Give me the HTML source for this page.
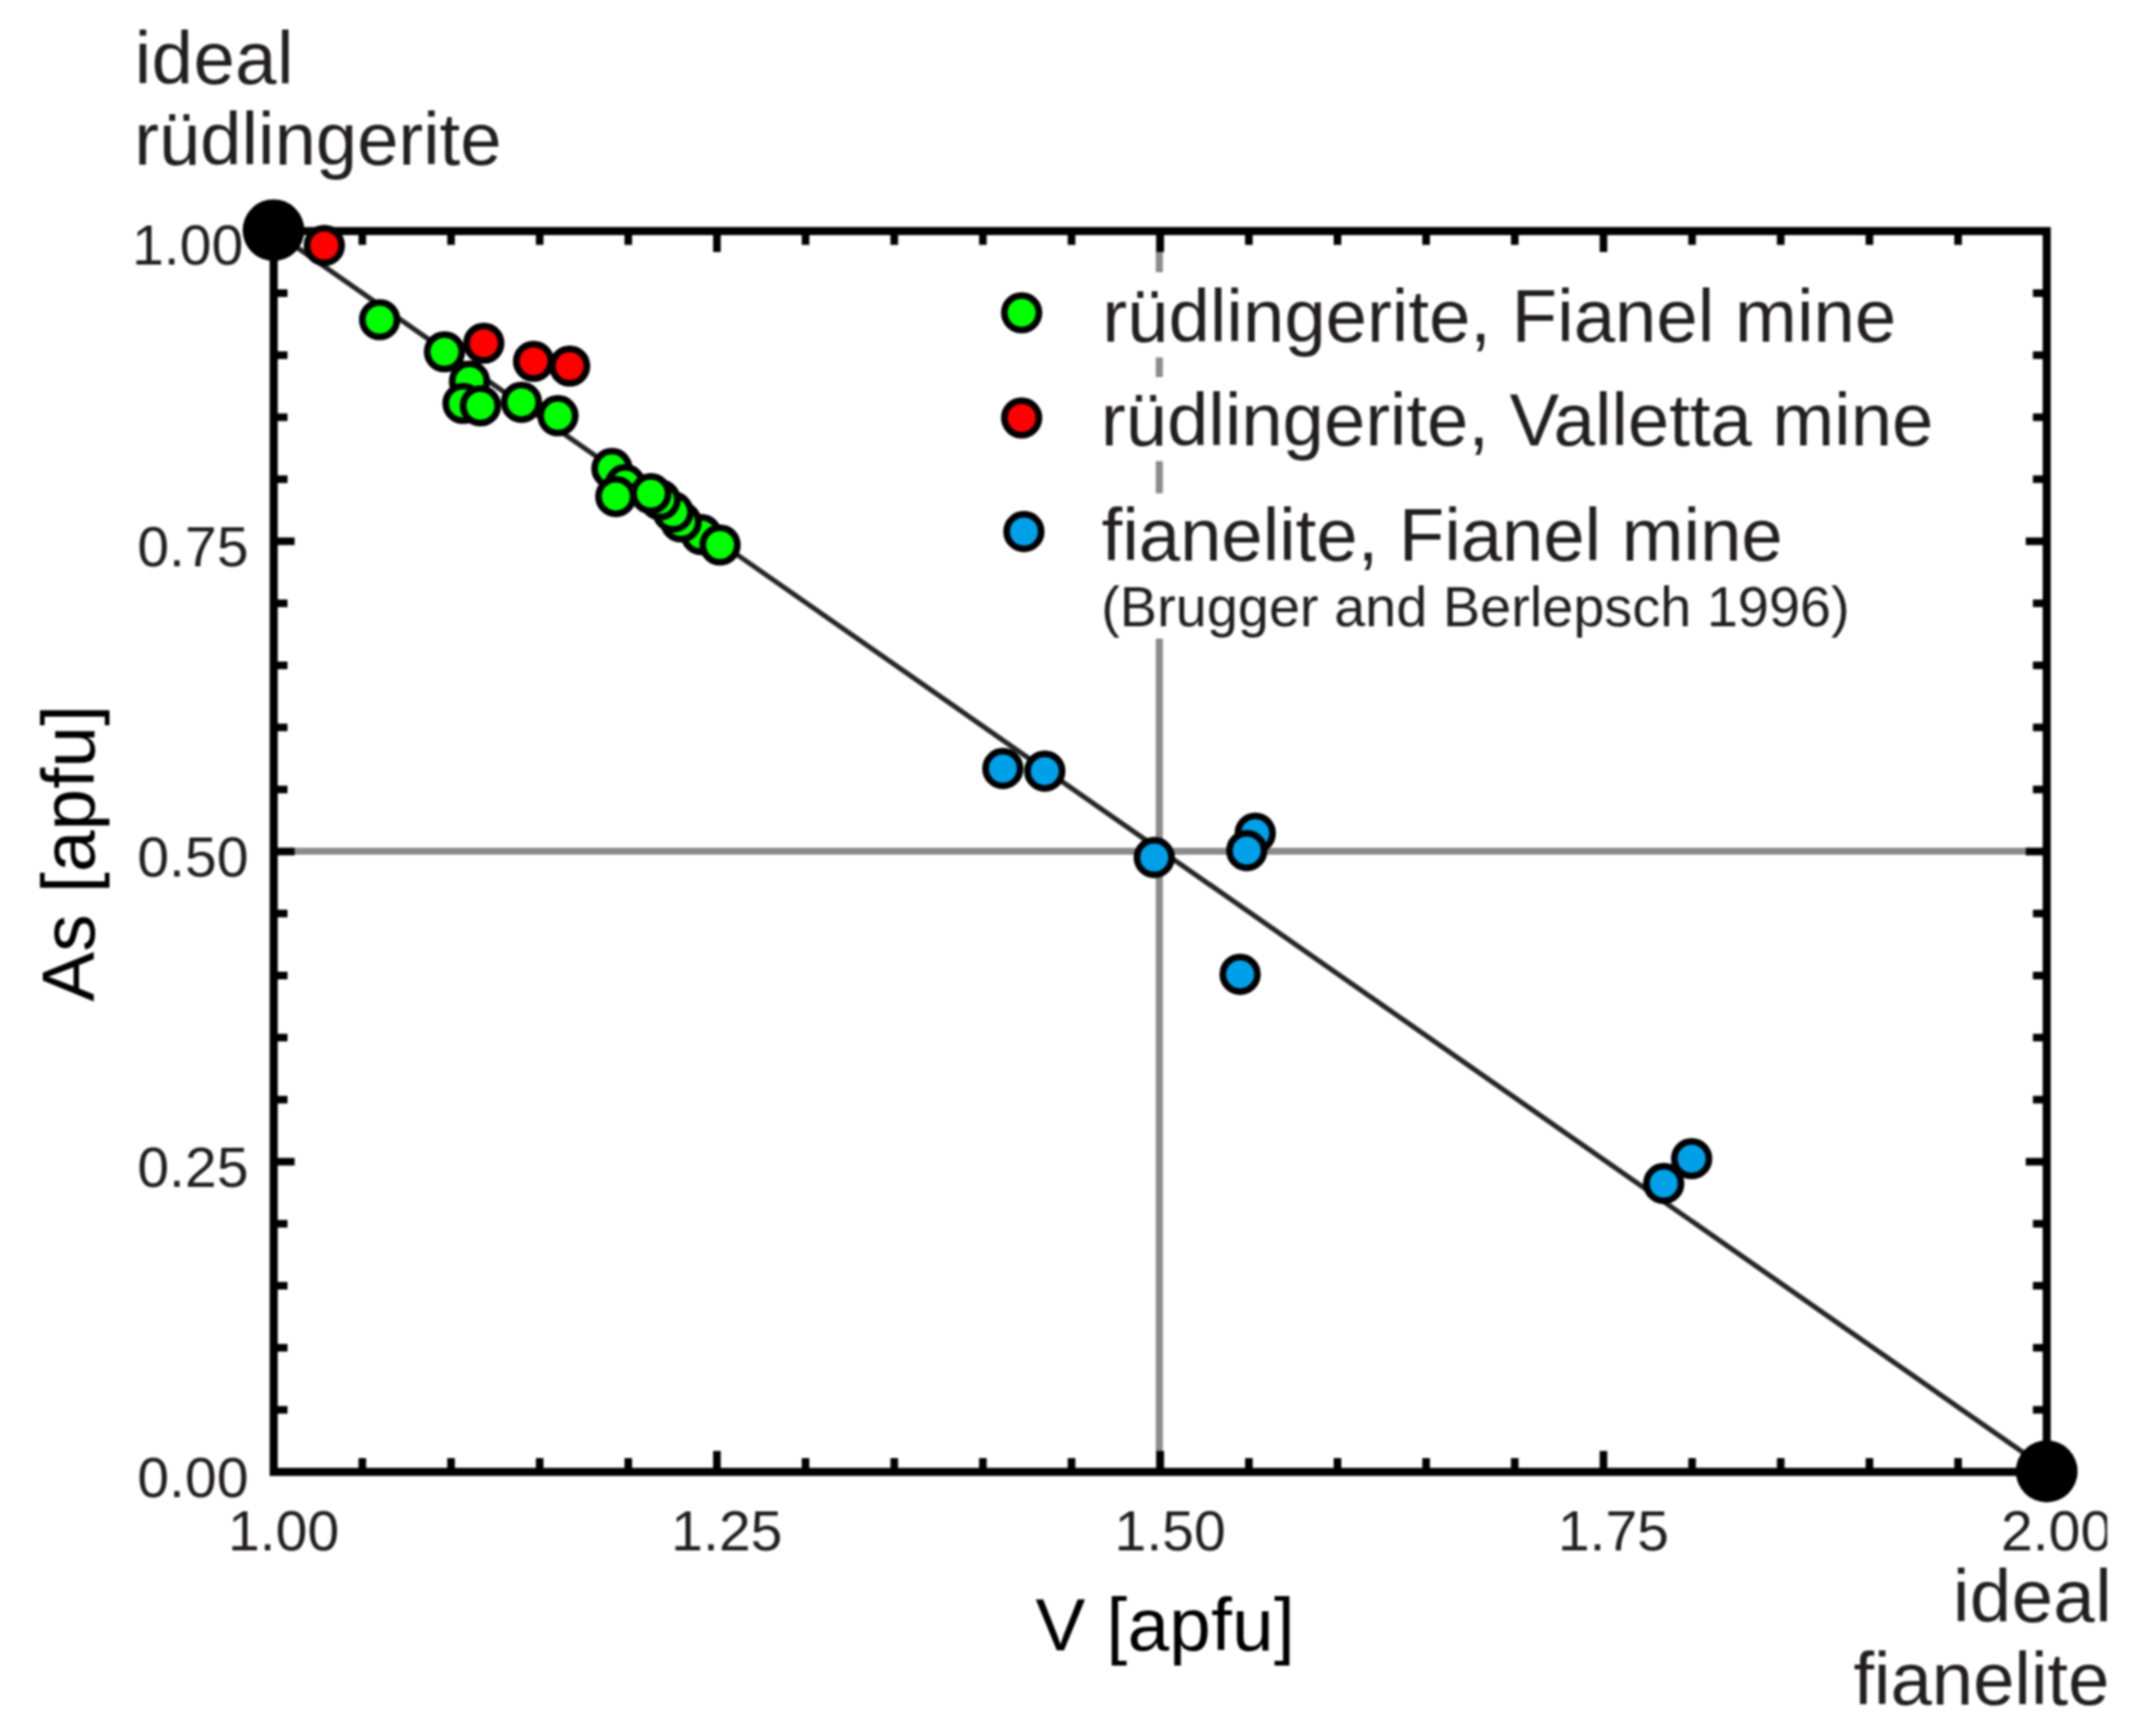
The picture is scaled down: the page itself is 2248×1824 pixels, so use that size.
<!DOCTYPE html>
<html lang="en"><head><meta charset="utf-8"><title>As vs V plot</title>
<style>html,body{margin:0;padding:0;background:#fff;}body{width:2248px;height:1824px;overflow:hidden;}svg{display:block;filter:blur(0.9px);}text{font-family:"Liberation Sans", Arial, Helvetica, sans-serif;}</style>
</head><body>
<svg width="2248" height="1824" viewBox="0 0 2248 1824">
<defs><clipPath id="clipR"><rect x="0" y="0" width="2213.5" height="1824"/></clipPath></defs>
<rect x="0" y="0" width="2248" height="1824" fill="#ffffff"/>
<g stroke="#8b8b8b" stroke-width="7.4" fill="none">
<line x1="287.5" y1="894.4" x2="2150.0" y2="894.4"/>
<line x1="1217.8" y1="242.8" x2="1217.8" y2="286.0"/>
<line x1="1217.8" y1="375.6" x2="1217.8" y2="396.2"/>
<line x1="1217.8" y1="484.5" x2="1217.8" y2="518.3"/>
<line x1="1217.8" y1="671.0" x2="1217.8" y2="1546.5"/>
</g>
<line x1="287.5" y1="242.9" x2="2150.0" y2="1543.4" stroke="#262626" stroke-width="5.3"/>
<rect x="287.5" y="242.8" width="1862.5" height="1303.7" fill="none" stroke="#000" stroke-width="8.5"/>
<g stroke="#000" stroke-width="8" stroke-linecap="butt">
<line x1="380.6" y1="1546.5" x2="380.6" y2="1532.0"/>
<line x1="380.6" y1="242.8" x2="380.6" y2="257.3"/>
<line x1="287.5" y1="308.0" x2="302.0" y2="308.0"/>
<line x1="2150.0" y1="308.0" x2="2135.5" y2="308.0"/>
<line x1="473.8" y1="1546.5" x2="473.8" y2="1532.0"/>
<line x1="473.8" y1="242.8" x2="473.8" y2="257.3"/>
<line x1="287.5" y1="373.2" x2="302.0" y2="373.2"/>
<line x1="2150.0" y1="373.2" x2="2135.5" y2="373.2"/>
<line x1="566.9" y1="1546.5" x2="566.9" y2="1532.0"/>
<line x1="566.9" y1="242.8" x2="566.9" y2="257.3"/>
<line x1="287.5" y1="438.4" x2="302.0" y2="438.4"/>
<line x1="2150.0" y1="438.4" x2="2135.5" y2="438.4"/>
<line x1="660.0" y1="1546.5" x2="660.0" y2="1532.0"/>
<line x1="660.0" y1="242.8" x2="660.0" y2="257.3"/>
<line x1="287.5" y1="503.5" x2="302.0" y2="503.5"/>
<line x1="2150.0" y1="503.5" x2="2135.5" y2="503.5"/>
<line x1="753.1" y1="1546.5" x2="753.1" y2="1524.5"/>
<line x1="753.1" y1="242.8" x2="753.1" y2="264.8"/>
<line x1="287.5" y1="568.7" x2="309.5" y2="568.7"/>
<line x1="2150.0" y1="568.7" x2="2128.0" y2="568.7"/>
<line x1="846.2" y1="1546.5" x2="846.2" y2="1532.0"/>
<line x1="846.2" y1="242.8" x2="846.2" y2="257.3"/>
<line x1="287.5" y1="633.9" x2="302.0" y2="633.9"/>
<line x1="2150.0" y1="633.9" x2="2135.5" y2="633.9"/>
<line x1="939.4" y1="1546.5" x2="939.4" y2="1532.0"/>
<line x1="939.4" y1="242.8" x2="939.4" y2="257.3"/>
<line x1="287.5" y1="699.1" x2="302.0" y2="699.1"/>
<line x1="2150.0" y1="699.1" x2="2135.5" y2="699.1"/>
<line x1="1032.5" y1="1546.5" x2="1032.5" y2="1532.0"/>
<line x1="1032.5" y1="242.8" x2="1032.5" y2="257.3"/>
<line x1="287.5" y1="764.3" x2="302.0" y2="764.3"/>
<line x1="2150.0" y1="764.3" x2="2135.5" y2="764.3"/>
<line x1="1125.6" y1="1546.5" x2="1125.6" y2="1532.0"/>
<line x1="1125.6" y1="242.8" x2="1125.6" y2="257.3"/>
<line x1="287.5" y1="829.5" x2="302.0" y2="829.5"/>
<line x1="2150.0" y1="829.5" x2="2135.5" y2="829.5"/>
<line x1="1218.8" y1="1546.5" x2="1218.8" y2="1524.5"/>
<line x1="1218.8" y1="242.8" x2="1218.8" y2="264.8"/>
<line x1="287.5" y1="894.7" x2="309.5" y2="894.7"/>
<line x1="2150.0" y1="894.7" x2="2128.0" y2="894.7"/>
<line x1="1311.9" y1="1546.5" x2="1311.9" y2="1532.0"/>
<line x1="1311.9" y1="242.8" x2="1311.9" y2="257.3"/>
<line x1="287.5" y1="959.8" x2="302.0" y2="959.8"/>
<line x1="2150.0" y1="959.8" x2="2135.5" y2="959.8"/>
<line x1="1405.0" y1="1546.5" x2="1405.0" y2="1532.0"/>
<line x1="1405.0" y1="242.8" x2="1405.0" y2="257.3"/>
<line x1="287.5" y1="1025.0" x2="302.0" y2="1025.0"/>
<line x1="2150.0" y1="1025.0" x2="2135.5" y2="1025.0"/>
<line x1="1498.1" y1="1546.5" x2="1498.1" y2="1532.0"/>
<line x1="1498.1" y1="242.8" x2="1498.1" y2="257.3"/>
<line x1="287.5" y1="1090.2" x2="302.0" y2="1090.2"/>
<line x1="2150.0" y1="1090.2" x2="2135.5" y2="1090.2"/>
<line x1="1591.2" y1="1546.5" x2="1591.2" y2="1532.0"/>
<line x1="1591.2" y1="242.8" x2="1591.2" y2="257.3"/>
<line x1="287.5" y1="1155.4" x2="302.0" y2="1155.4"/>
<line x1="2150.0" y1="1155.4" x2="2135.5" y2="1155.4"/>
<line x1="1684.4" y1="1546.5" x2="1684.4" y2="1524.5"/>
<line x1="1684.4" y1="242.8" x2="1684.4" y2="264.8"/>
<line x1="287.5" y1="1220.6" x2="309.5" y2="1220.6"/>
<line x1="2150.0" y1="1220.6" x2="2128.0" y2="1220.6"/>
<line x1="1777.5" y1="1546.5" x2="1777.5" y2="1532.0"/>
<line x1="1777.5" y1="242.8" x2="1777.5" y2="257.3"/>
<line x1="287.5" y1="1285.8" x2="302.0" y2="1285.8"/>
<line x1="2150.0" y1="1285.8" x2="2135.5" y2="1285.8"/>
<line x1="1870.6" y1="1546.5" x2="1870.6" y2="1532.0"/>
<line x1="1870.6" y1="242.8" x2="1870.6" y2="257.3"/>
<line x1="287.5" y1="1350.9" x2="302.0" y2="1350.9"/>
<line x1="2150.0" y1="1350.9" x2="2135.5" y2="1350.9"/>
<line x1="1963.8" y1="1546.5" x2="1963.8" y2="1532.0"/>
<line x1="1963.8" y1="242.8" x2="1963.8" y2="257.3"/>
<line x1="287.5" y1="1416.1" x2="302.0" y2="1416.1"/>
<line x1="2150.0" y1="1416.1" x2="2135.5" y2="1416.1"/>
<line x1="2056.9" y1="1546.5" x2="2056.9" y2="1532.0"/>
<line x1="2056.9" y1="242.8" x2="2056.9" y2="257.3"/>
<line x1="287.5" y1="1481.3" x2="302.0" y2="1481.3"/>
<line x1="2150.0" y1="1481.3" x2="2135.5" y2="1481.3"/>
</g>
<g fill="#00ff00" stroke="#000" stroke-width="7">
<circle cx="398.8" cy="335.9" r="18.2"/>
<circle cx="493.2" cy="400.5" r="18.2"/>
<circle cx="466.9" cy="369.6" r="18.2"/>
<circle cx="486.4" cy="423.9" r="18.2"/>
<circle cx="504.7" cy="426.4" r="18.2"/>
<circle cx="547.8" cy="422.7" r="18.2"/>
<circle cx="586.1" cy="436.8" r="18.2"/>
<circle cx="642.8" cy="492.3" r="18.2"/>
<circle cx="656.9" cy="509.3" r="18.2"/>
<circle cx="646.9" cy="521.7" r="18.2"/>
</g>
<g fill="#00ff00" stroke="#000" stroke-width="7">
<circle cx="736.7" cy="561.7" r="18.2"/>
<circle cx="715.4" cy="548.4" r="18.2"/>
<circle cx="707.1" cy="538.0" r="18.2"/>
<circle cx="693.4" cy="525.1" r="18.2"/>
<circle cx="683.7" cy="518.6" r="18.2"/>
</g>
<g fill="#00ff00" stroke="#000" stroke-width="7">
<circle cx="756.4" cy="572.6" r="18.2"/>
</g>
<g fill="#ff0000" stroke="#000" stroke-width="7">
<circle cx="340.7" cy="258.0" r="18.2"/>
<circle cx="508.2" cy="360.6" r="18.2"/>
<circle cx="560.5" cy="379.6" r="18.2"/>
<circle cx="598.4" cy="384.6" r="18.2"/>
</g>
<g fill="#00a0e9" stroke="#000" stroke-width="7">
<circle cx="1053.5" cy="807.5" r="18.2"/>
<circle cx="1097.5" cy="810.2" r="18.2"/>
<circle cx="1212.5" cy="901.0" r="18.2"/>
<circle cx="1318.6" cy="875.4" r="18.2"/>
<circle cx="1309.7" cy="893.7" r="18.2"/>
<circle cx="1302.7" cy="1023.7" r="18.2"/>
<circle cx="1777.0" cy="1217.4" r="18.2"/>
<circle cx="1747.7" cy="1243.5" r="18.2"/>
</g>
<circle cx="287.3" cy="241.8" r="32.4" fill="#000"/>
<circle cx="2150.0" cy="1545.9" r="32.5" fill="#000"/>
<g fill="#00ff00" stroke="#000" stroke-width="7">
<circle cx="1073.2" cy="328.6" r="18.2"/>
</g>
<g fill="#ff0000" stroke="#000" stroke-width="7">
<circle cx="1073.2" cy="439.1" r="18.2"/>
</g>
<g fill="#00a0e9" stroke="#000" stroke-width="7">
<circle cx="1075.6" cy="558.5" r="18.2"/>
</g>
<text x="141.5" y="87.6" font-size="78" text-anchor="start" fill="#231f20" letter-spacing="0.5">ideal</text>
<text x="141.0" y="172.8" font-size="78" text-anchor="start" fill="#231f20">rüdlingerite</text>
<text x="1158.0" y="358.7" font-size="78" text-anchor="start" fill="#231f20" letter-spacing="0.06">rüdlingerite, Fianel mine</text>
<text x="1156.6" y="468.2" font-size="78" text-anchor="start" fill="#231f20">rüdlingerite, Valletta mine</text>
<text x="1157.3" y="589.0" font-size="78" text-anchor="start" fill="#231f20">fianelite, Fianel mine</text>
<text x="1156.8" y="658.0" font-size="58.7" text-anchor="start" fill="#231f20">(Brugger and Berlepsch 1996)</text>
<text x="255.5" y="278.2" font-size="60" text-anchor="end" fill="#231f20">1.00</text>
<text x="261.0" y="594.7" font-size="60" text-anchor="end" fill="#231f20">0.75</text>
<text x="261.0" y="920.6" font-size="60" text-anchor="end" fill="#231f20">0.50</text>
<text x="261.0" y="1246.6" font-size="60" text-anchor="end" fill="#231f20">0.25</text>
<text x="261.0" y="1572.5" font-size="60" text-anchor="end" fill="#231f20">0.00</text>
<text x="239.5" y="1629.0" font-size="60" text-anchor="start" fill="#231f20">1.00</text>
<text x="705.1" y="1629.0" font-size="60" text-anchor="start" fill="#231f20">1.25</text>
<text x="1170.8" y="1629.0" font-size="60" text-anchor="start" fill="#231f20">1.50</text>
<text x="1636.4" y="1629.0" font-size="60" text-anchor="start" fill="#231f20">1.75</text>
<text x="2102.0" y="1629.0" font-size="60" text-anchor="start" fill="#231f20" clip-path="url(#clipR)">2.00</text>
<text x="2051.5" y="1703.8" font-size="78" text-anchor="start" fill="#231f20" letter-spacing="0.5" clip-path="url(#clipR)">ideal</text>
<text x="2215.8" y="1791.4" font-size="78" text-anchor="end" fill="#231f20" clip-path="url(#clipR)">fianelite</text>
<text x="1224.0" y="1734.0" font-size="78.5" text-anchor="middle" fill="#000" letter-spacing="0.25">V [apfu]</text>
<text transform="translate(98.6 896.5) rotate(-90)" font-size="78.5" letter-spacing="0.25" text-anchor="middle" fill="#000">As [apfu]</text>
</svg>
</body></html>
